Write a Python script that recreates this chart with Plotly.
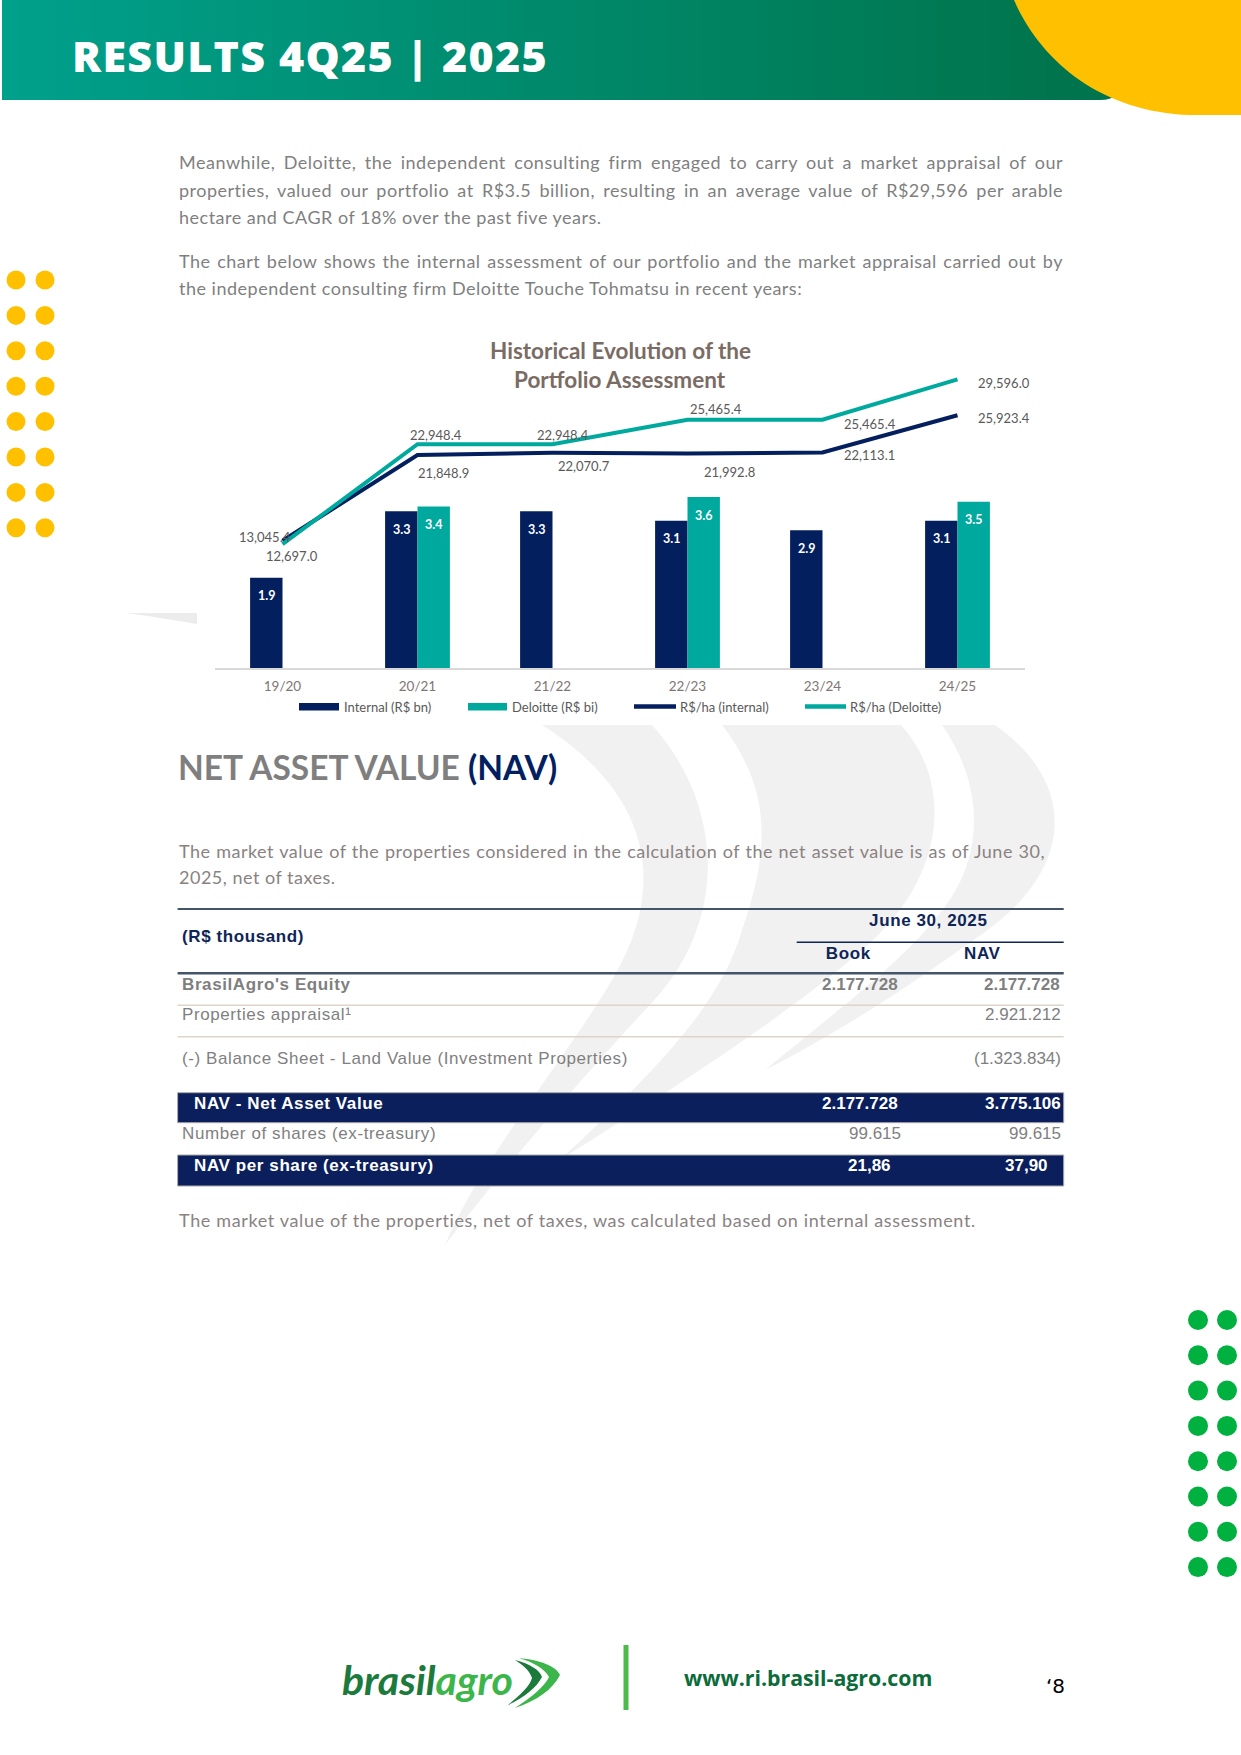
import re
import json
import plotly.graph_objects as go

W, H = 1241, 1755

# ---------------- data ----------------
categories = ["19/20", "20/21", "21/22", "22/23", "23/24", "24/25"]
internal_bn = [1.9, 3.3, 3.3, 3.1, 2.9, 3.1]
deloitte_bn = [None, 3.4, None, 3.6, None, 3.5]
rsha_internal = [13045.4, 21848.9, 22070.7, 21992.8, 22113.1, 25923.4]
rsha_deloitte = [12697.0, 22948.4, 22948.4, 25465.4, 25465.4, 29596.0]
series_names = ["Internal (R$ bn)", "Deloitte (R$ bi)", "R$/ha (internal)", "R$/ha (Deloitte)"]

table_rows = ["BrasilAgro's Equity", "Properties appraisal¹",
              "(-) Balance Sheet - Land Value (Investment Properties)",
              "NAV - Net Asset Value", "Number of shares (ex-treasury)",
              "NAV per share (ex-treasury)"]
table_book = ["2.177.728", "", "", "2.177.728", "99.615", "21,86"]
table_nav = ["2.177.728", "2.921.212", "(1.323.834)", "3.775.106", "99.615", "37,90"]

para1 = ["Meanwhile, Deloitte, the independent consulting firm engaged to carry out a market appraisal of our",
         "properties, valued our portfolio at R$3.5 billion, resulting in an average value of R$29,596 per arable",
         "hectare and CAGR of 18% over the past five years."]
para2 = ["The chart below shows the internal assessment of our portfolio and the market appraisal carried out by",
         "the independent consulting firm Deloitte Touche Tohmatsu in recent years:"]
para3 = ["The market value of the properties considered in the calculation of the net asset value is as of June 30,",
         "2025, net of taxes."]
para4 = ["The market value of the properties, net of taxes, was calculated based on internal assessment."]

# ---------------- styles ----------------
NAVY = "#031f5e"
TEAL = "#00a99d"
GRAY = "#7f7f7f"
LBL = "#595959"


def X(x):
    return x / W


def Y(y):
    return 1 - y / H


def P(s):
    return re.sub(r"(-?\d+\.?\d*),(-?\d+\.?\d*)",
                  lambda m: f"{X(float(m[1])):.5f},{Y(float(m[2])):.5f}", s)


shapes = []
annotations = []
spacing = {}


def rect(x0, y0, x1, y1, fill, line=None, lw=0):
    shapes.append(dict(type="rect", xref="paper", yref="paper", layer="below",
                       x0=X(x0), x1=X(x1), y0=Y(y1), y1=Y(y0), fillcolor=fill,
                       line=dict(color=line or fill, width=lw)))


def hline(x0, x1, y, color, w):
    shapes.append(dict(type="line", xref="paper", yref="paper", layer="below",
                       x0=X(x0), x1=X(x1), y0=Y(y), y1=Y(y), line=dict(color=color, width=w)))


def circle(cx, cy, r, color):
    shapes.append(dict(type="circle", xref="paper", yref="paper", layer="below",
                       x0=X(cx - r), x1=X(cx + r), y0=Y(cy + r), y1=Y(cy - r),
                       fillcolor=color, line=dict(width=0)))


def path(s, color):
    shapes.append(dict(type="path", xref="paper", yref="paper", layer="below",
                       path=P(s), fillcolor=color, line=dict(width=0)))


def text(x, y, s, size, color, family="Lato", xanchor="left", weight="normal", style="normal",
         just=0, ls=0):
    align = {"left": "left", "right": "right"}.get(xanchor, "center")
    if just or ls:
        spacing[str(len(annotations))] = [ls, just]
    annotations.append(dict(xref="paper", yref="paper", x=X(x), y=Y(y), text=s, showarrow=False,
                            xanchor=xanchor, yanchor="middle", align=align,
                            font=dict(family=family, size=size, color=color, weight=weight, style=style)))


# ---------------- header ----------------
c0 = (0x00, 0xA0, 0x8B)
c1 = (0x00, 0x74, 0x4C)
n = 60
x_start, x_end = 2, 1080
for i in range(n):
    t = i / (n - 1)
    col = "rgb(%d,%d,%d)" % tuple(round(a + (b - a) * t) for a, b in zip(c0, c1))
    xa = x_start + (x_end - x_start) * i / n
    xb = x_start + (x_end - x_start) * (i + 1) / n + 0.8
    rect(xa, 0, xb, 100, col)
path("M 1079,0 L 1122,0 L 1122,78 Q 1122,100 1100,100 L 1079,100 Z", "rgb(0,116,76)")
path("M 1014,0 C 1040,60 1100,112 1190,115 L 1241,115 L 1241,0 Z", "#ffc000")
text(70, 55, "RESULTS 4Q25 | 2025", 43, "white", family="Open Sans", weight=800, ls=1.3)

# decorative dots
for i in range(8):
    for cx in (16, 45):
        circle(cx, 280 + 35.4 * i, 9.5, "#ffc000")
    for cx in (1198, 1227):
        circle(cx, 1320 + 35.3 * i, 10, "#00b140")

# watermark swooshes
WM = "#f1f1f1"
path("M 542,725 L 652,725 C 720,800 735,920 645,1010 C 585,1075 510,1160 445,1245 "
     "C 480,1160 565,1060 612,980 C 672,880 645,790 542,725 Z", WM)
path("M 722,725 L 901,725 C 955,785 945,880 862,950 C 782,1020 655,1100 560,1160 "
     "C 640,1085 720,1010 742,930 C 770,850 772,790 722,725 Z", WM)
path("M 942,725 L 995,725 C 1080,785 1072,870 985,932 C 905,990 825,1040 765,1070 "
     "C 850,1000 930,942 960,882 C 985,830 975,772 942,725 Z", WM)
path("M 127,613 L 197,613 L 197,624 C 172,620 150,616 127,613 Z", "#ececec")

# paragraphs
PF, PLS = 18, 0.5
for i, s in enumerate(para1):
    text(177, 162.3 + 27.4 * i, s, PF, GRAY, just=884 if i < len(para1) - 1 else 0, ls=PLS)
for i, s in enumerate(para2):
    text(177, 260.7 + 27.6 * i, s, PF, GRAY, just=884 if i < len(para2) - 1 else 0, ls=PLS)
for i, s in enumerate(para3):
    text(177, 850.7 + 26.6 * i, s, PF, "#8a8282", just=866 if i < len(para3) - 1 else 0, ls=PLS)
text(177, 1220, para4[0], PF, "#8a8282", ls=0.65)

# ---------------- chart ----------------
x0_px, x1_px = 215, 1025
base_px, top_px = 668, 330
px_per_bn = 47.5
px_per_rs = 0.00975
h_px = base_px - top_px

fig = go.Figure()
fig.add_trace(go.Bar(x=categories, y=internal_bn, name=series_names[0], marker=dict(color=NAVY, line=dict(width=0)),
                     xaxis="x", yaxis="y"))
fig.add_trace(go.Bar(x=categories, y=deloitte_bn, name=series_names[1], marker=dict(color=TEAL, line=dict(width=0)),
                     xaxis="x", yaxis="y"))
fig.add_trace(go.Scatter(x=categories, y=rsha_internal, name=series_names[2], mode="lines",
                         line=dict(color=NAVY, width=4), xaxis="x", yaxis="y3"))
fig.add_trace(go.Scatter(x=categories, y=rsha_deloitte, name=series_names[3], mode="lines",
                         line=dict(color=TEAL, width=4), xaxis="x", yaxis="y3"))

# bar labels
for c, v in zip(categories, internal_bn):
    annotations.append(dict(xref="x", yref="y", x=c, y=v, text=f"<b>{v:.1f}</b>", showarrow=False,
                            xshift=-16, yshift=-18, yanchor="middle",
                            font=dict(family="Lato", size=12.5, color="white")))
for c, v in zip(categories, deloitte_bn):
    if v is None:
        continue
    annotations.append(dict(xref="x", yref="y", x=c, y=v, text=f"<b>{v:.1f}</b>", showarrow=False,
                            xshift=16, yshift=-18, yanchor="middle",
                            font=dict(family="Lato", size=12.5, color="white")))

int_lbl_off = [(-18, -4), (26, 18), (31, 13), (42, 18), (47, 3), (46, 3)]
del_lbl_off = [(9, 11.5), (18, -9), (10, -9), (28, -11), (47, 4), (46, 4)]
for vals, offs in ((rsha_internal, int_lbl_off), (rsha_deloitte, del_lbl_off)):
    for c, v, (dx, dy) in zip(categories, vals, offs):
        annotations.append(dict(xref="x", yref="y3", x=c, y=v, text=f"{v:,.1f}", showarrow=False,
                                xshift=dx, yshift=-dy, yanchor="middle",
                                font=dict(family="Lato", size=13, color=LBL)))

# chart title
text(620, 350, "<b>Historical Evolution of the</b>", 22.5, "#7a6c64", xanchor="center")
text(620, 380, "<b>Portfolio Assessment</b>", 22.5, "#7a6c64", xanchor="center")

# custom legend
rect(299, 703, 339, 710.5, NAVY)
rect(468, 703, 507, 710.5, TEAL)
shapes.append(dict(type="line", xref="paper", yref="paper", layer="below", x0=X(634), x1=X(676),
                   y0=Y(706.5), y1=Y(706.5), line=dict(color=NAVY, width=4.5)))
shapes.append(dict(type="line", xref="paper", yref="paper", layer="below", x0=X(805), x1=X(846),
                   y0=Y(706.5), y1=Y(706.5), line=dict(color=TEAL, width=4.5)))
for xx, s in zip((342, 510, 678, 848), series_names):
    text(xx, 706.5, s, 13, LBL)

# ---------------- NAV section ----------------
text(176, 767.5, "<b>NET ASSET VALUE <span style='color:#002060'>(NAV)</span></b>", 33.5, GRAY)

TL, TR = 177.6, 1063.7
TF = "Liberation Sans"
TN = "#0f2557"
TS = 17
TLS = 0.6
hline(TL, TR, 909, "#44546a", 2)
hline(796.7, TR, 942.3, TN, 1.5)
hline(TL, TR, 973.3, "#44546a", 2.5)
hline(TL, TR, 1005.3, "#ddd6c8", 1.5)
hline(TL, TR, 1036.7, "#ddd6c8", 1.5)
rect(TL, 1092.7, TR, 1122.7, "#0b1f5c", "#a9a9a9", 1)
rect(TL, 1155, TR, 1186, "#0b1f5c", "#a9a9a9", 1)

text(180, 936.7, "<b>(R$ thousand)</b>", TS, TN, family=TF, ls=TLS)
text(928.7, 920.7, "<b>June 30, 2025</b>", TS, TN, family=TF, xanchor="center", ls=TLS)
text(848.4, 953.3, "<b>Book</b>", TS, TN, family=TF, xanchor="center", ls=TLS)
text(982.8, 953.3, "<b>NAV</b>", TS, TN, family=TF, xanchor="center", ls=TLS)

row_y = [984.3, 1014.3, 1058.3, 1103.3, 1133.3, 1165.7]
row_x = [180, 180, 180, 192, 180, 192]
book_x = [900, 900, 900, 900, 903, 892.5]
nav_x = [1061.5, 1063, 1063, 1063, 1063, 1049.5]
row_kind = ["bold", "reg", "reg", "band", "reg", "band"]
for i, lab in enumerate(table_rows):
    k = row_kind[i]
    col = "white" if k == "band" else GRAY
    b = k in ("bold", "band")
    f = (lambda s: f"<b>{s}</b>") if b else (lambda s: s)
    text(row_x[i], row_y[i], f(lab), TS, col, family=TF, ls=TLS)
    if table_book[i]:
        text(book_x[i], row_y[i], f(table_book[i]), TS, col, family=TF, xanchor="right")
    if table_nav[i]:
        text(nav_x[i], row_y[i], f(table_nav[i]), TS, col, family=TF, xanchor="right")

# ---------------- footer ----------------
text(340, 1679, "<b><i>brasil<span style='color:#3cb54a'>agro</span></i></b>", 41, "#1b7a3c")
path("M 519,1658 C 540,1660 556,1666 560,1675 C 552,1690 538,1700 515,1708 "
     "C 532,1697 545,1686 549,1677 C 545,1669 533,1662 519,1658 Z", "#3cb54a")
path("M 515,1660 C 530,1664 540,1670 542,1677 C 536,1688 525,1697 508,1705 "
     "C 520,1695 530,1686 532,1678 C 530,1671 523,1665 515,1660 Z", "#1b7a3c")
shapes.append(dict(type="line", xref="paper", yref="paper", layer="below", x0=X(626), x1=X(626),
                   y0=Y(1710), y1=Y(1645), line=dict(color="#4cbb4c", width=5)))
text(682, 1677, "<b>www.ri.brasil-agro.com</b>", 21.3, "#0c6b3a", family="Open Sans")
text(1044, 1686, "‘8", 20, "black", family="DejaVu Sans")

# ---------------- layout ----------------
fig.update_layout(
    width=W, height=H, autosize=False,
    margin=dict(l=0, r=0, t=0, b=0),
    paper_bgcolor="white", plot_bgcolor="rgba(0,0,0,0)",
    showlegend=False, barmode="group", bargap=0.52, bargroupgap=0,
    xaxis=dict(domain=[X(x0_px), X(x1_px)], range=[-0.5, 5.5], type="category",
               showline=True, linecolor="#d9d9d9", linewidth=1.5, showgrid=False, zeroline=False,
               ticks="outside", ticklen=5, tickcolor="rgba(0,0,0,0)",
               tickfont=dict(family="Lato", size=13.5, color="#7f7575"), anchor="y"),
    yaxis=dict(domain=[Y(base_px), Y(top_px)], range=[0, h_px / px_per_bn], visible=False,
               showgrid=False, zeroline=False),
    yaxis3=dict(overlaying="y", range=[0, h_px / px_per_rs], visible=False, showgrid=False,
                zeroline=False, side="right"),
    shapes=shapes, annotations=annotations,
)

js = """
document.body.style.margin='0px';document.body.style.overflow='hidden';
var S = %s;
document.querySelectorAll('g.annotation').forEach(function(g){
  var i = g.getAttribute('data-index');
  var s = S[i];
  if (s === undefined) return;
  var t = g.querySelector('text.annotation-text');
  if (!t) return;
  if (s[0]) { t.style.letterSpacing = s[0] + 'px'; }
  if (s[1]) {
    var L = t.getComputedTextLength();
    var n = (t.textContent.match(/ /g) || []).length;
    if (n > 0 && s[1] > L) { t.style.wordSpacing = ((s[1] - L) / n) + 'px'; }
  }
});
""" % json.dumps(spacing)

fig.write_html("out.html", config={"displayModeBar": False}, post_script=js)
